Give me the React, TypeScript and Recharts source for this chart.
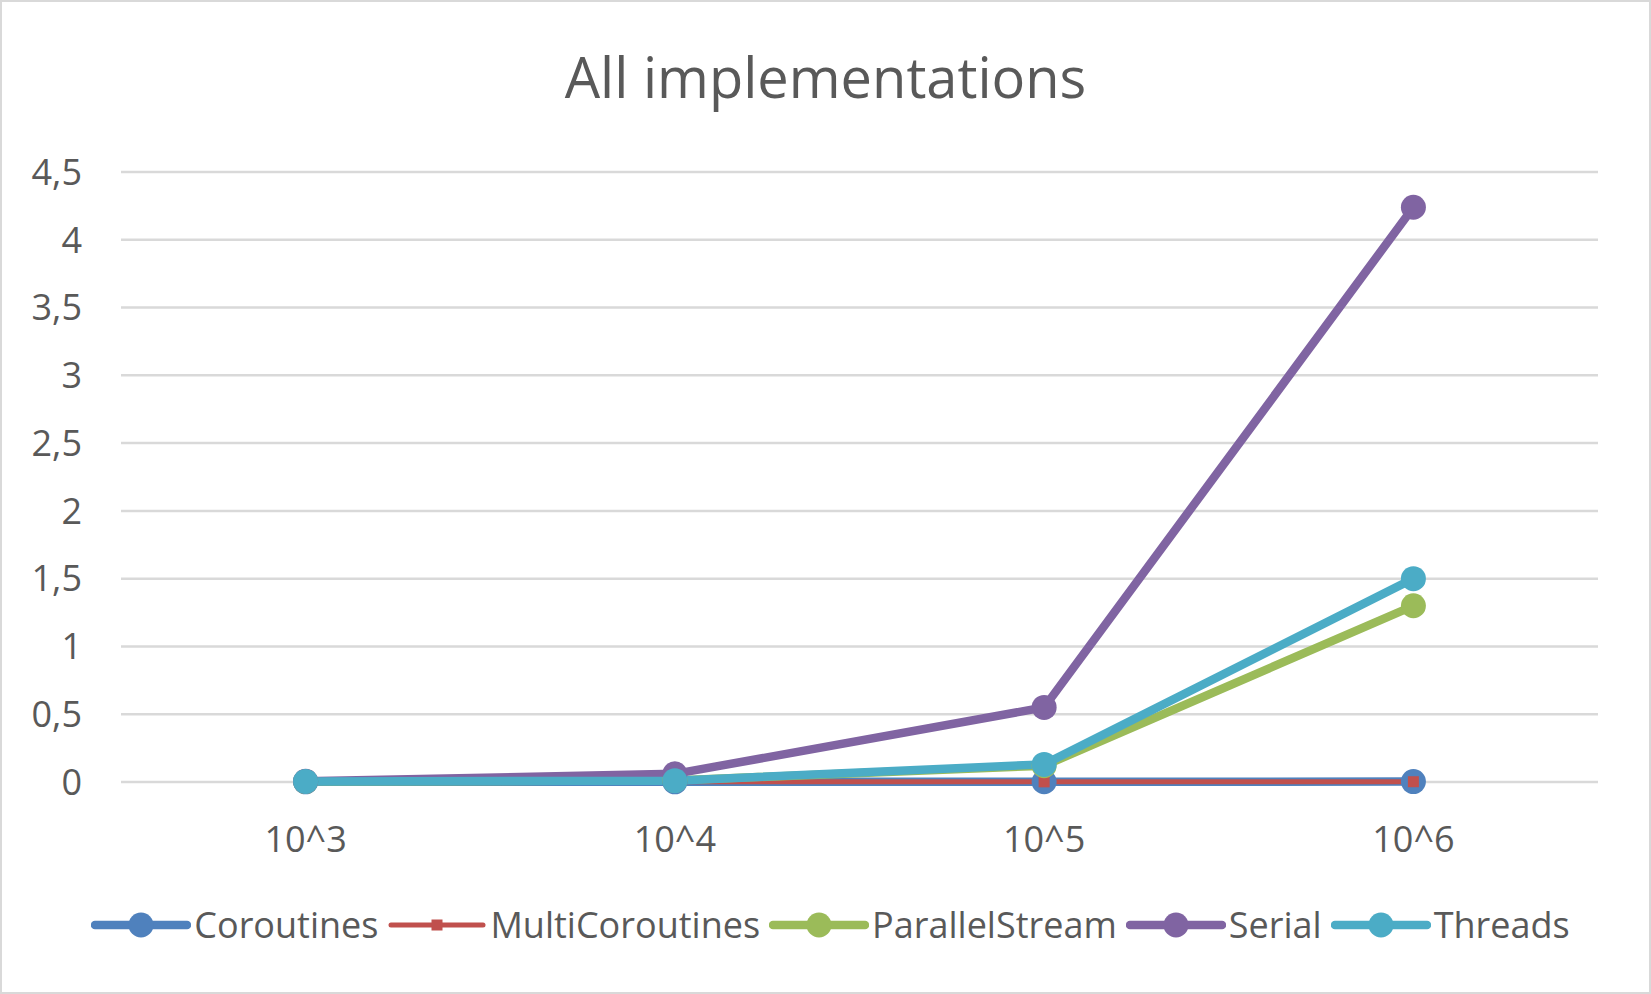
import React from 'react';
import { LineChart, Line, XAxis, YAxis, CartesianGrid } from 'recharts';

const categories = ['10^3', '10^4', '10^5', '10^6'];
const coroutines = [0.001, 0.001, 0.002, 0.003];
const multiCoroutines = [0.001, 0.001, 0.001, 0.002];
const parallelStream = [0.003, 0.012, 0.12, 1.3];
const serial = [0.005, 0.06, 0.55, 4.24];
const threads = [0.004, 0.01, 0.13, 1.5];
const yTicks = [0, 0.5, 1, 1.5, 2, 2.5, 3, 3.5, 4, 4.5];
const title = 'All implementations';

const seriesList = [
  { key: 'Coroutines', values: coroutines, color: '#4F81BD', width: 8.5, marker: 'circle' },
  { key: 'MultiCoroutines', values: multiCoroutines, color: '#C0504D', width: 5, marker: 'square' },
  { key: 'ParallelStream', values: parallelStream, color: '#9BBB59', width: 8.5, marker: 'circle' },
  { key: 'Serial', values: serial, color: '#8064A2', width: 8.5, marker: 'circle' },
  { key: 'Threads', values: threads, color: '#4BACC6', width: 8.5, marker: 'circle' },
];

const data = categories.map((c, i) => {
  const row: any = { name: c };
  seriesList.forEach((s) => (row[s.key] = s.values[i]));
  return row;
});

const FONT = '"Open Sans", sans-serif';
const TEXT = '#595959';

const makeDot = (color: string, marker: string) => (props: any) => {
  const { cx, cy, index } = props;
  if (cx == null || cy == null) return <g key={index} />;
  if (marker === 'square') {
    return <rect key={index} x={cx - 5.5} y={cy - 5.5} width={11} height={11} fill={color} />;
  }
  return <circle key={index} cx={cx} cy={cy} r={12.5} fill={color} />;
};

const LegendIcon = ({ color, width, marker }: any) => (
  <svg width={100} height={30} style={{ display: 'block' }}>
    <line x1={4} y1={15} x2={96} y2={15} stroke={color} strokeWidth={width} strokeLinecap="round" />
    {marker === 'square' ? (
      <rect x={44.5} y={9.5} width={11} height={11} fill={color} />
    ) : (
      <circle cx={50} cy={15} r={12.5} fill={color} />
    )}
  </svg>
);

export default function App() {
  return (
    <div
      style={{
        position: 'fixed',
        left: 0,
        top: 0,
        width: 1651,
        height: 994,
        background: '#fff',
        fontFamily: FONT,
      }}
    >
      <div
        style={{
          position: 'absolute',
          left: 0,
          top: 38,
          width: 1651,
          textAlign: 'center',
          fontSize: 56,
          color: TEXT,
          lineHeight: 'normal',
        }}
      >
        {title}
      </div>
      <div style={{ position: 'absolute', left: 0, top: 0 }}>
        <LineChart
          width={1651}
          height={994}
          data={data}
          margin={{ top: 172, right: 53, bottom: 0, left: 0 }}
        >
          <CartesianGrid vertical={false} stroke="#D9D9D9" strokeWidth={2.5} />
          <XAxis
            dataKey="name"
            height={212}
            padding={{ left: 184.6, right: 184.6 }}
            axisLine={false}
            tickLine={false}
            tickSize={0}
            tickMargin={44}
            tick={{ fill: TEXT, fontSize: 36, fontFamily: FONT }}
          />
          <YAxis
            width={121}
            domain={[0, 4.5]}
            ticks={yTicks}
            interval={0}
            axisLine={false}
            tickLine={false}
            tickSize={0}
            tickMargin={39}
            tickFormatter={(v: number) => String(v).replace('.', ',')}
            tick={{ fill: TEXT, fontSize: 36, fontFamily: FONT }}
          />
          {seriesList.map((s) => (
            <Line
              key={s.key}
              dataKey={s.key}
              type="linear"
              stroke={s.color}
              strokeWidth={s.width}
              dot={makeDot(s.color, s.marker)}
              activeDot={false}
              isAnimationActive={false}
            />
          ))}
        </LineChart>
      </div>
      <div
        style={{
          position: 'absolute',
          left: 5,
          top: 900,
          width: 1651,
          height: 49,
          display: 'flex',
          justifyContent: 'center',
          alignItems: 'center',
          fontSize: 36,
          color: TEXT,
          lineHeight: 'normal',
        }}
      >
        {seriesList.map((s, i) => (
          <div
            key={s.key}
            style={{ display: 'flex', alignItems: 'center', marginLeft: i === 0 ? 0 : 9 }}
          >
            <LegendIcon color={s.color} width={s.width} marker={s.marker} />
            <span style={{ marginLeft: 3 }}>{s.key}</span>
          </div>
        ))}
      </div>
      <div
        style={{
          position: 'absolute',
          left: 0,
          top: 0,
          width: 1651,
          height: 994,
          boxSizing: 'border-box',
          border: '2px solid #D9D9D9',
          pointerEvents: 'none',
        }}
      />
    </div>
  );
}
